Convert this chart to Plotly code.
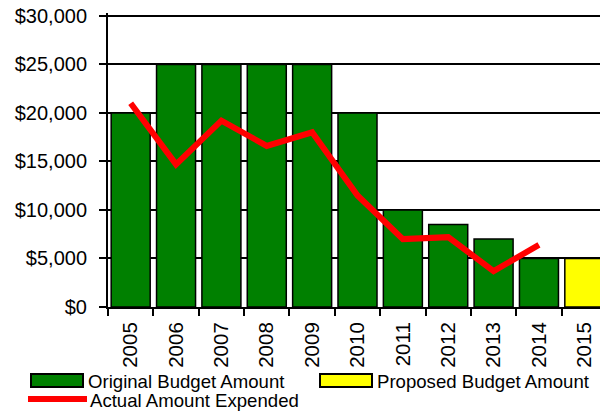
import plotly.graph_objects as go

years = ["2005", "2006", "2007", "2008", "2009", "2010", "2011", "2012", "2013", "2014", "2015"]
original_years = years[:10]
original_budget = [20000, 25000, 25000, 25000, 25000, 20000, 10000, 8500, 7000, 5000]
proposed_years = ["2015"]
proposed_budget = [5000]
actual_years = years[:10]
actual_expended = [21000, 14700, 19200, 16600, 18000, 11500, 7000, 7200, 3700, 6400]
y_tick_vals = [0, 5000, 10000, 15000, 20000, 25000, 30000]
y_tick_text = ["$0", "$5,000", "$10,000", "$15,000", "$20,000", "$25,000", "$30,000"]

# the page body has an 8px margin, so the figure is 8px smaller each way
OFF = 8
W, H = 608 - OFF, 413 - OFF
L, R, T, B = 108 - OFF, 1, 13 - OFF, 413 - 307
PW, PH = W - L - R, H - T - B
FONT = "Liberation Sans, Arial, sans-serif"


def px(x):
    return (x - OFF - L) / PW


def py(y):
    return (H - B - (y - OFF)) / PH


fig = go.Figure()
fig.add_trace(go.Bar(
    x=original_years, y=original_budget, name="Original Budget Amount",
    marker=dict(color="#008000", line=dict(color="black", width=1.5)),
    showlegend=False,
))
fig.add_trace(go.Bar(
    x=proposed_years, y=proposed_budget, name="Proposed Budget Amount",
    marker=dict(color="#FFFF00", line=dict(color="black", width=1.5)),
    showlegend=False,
))
fig.add_trace(go.Scatter(
    x=actual_years, y=actual_expended, name="Actual Amount Expended",
    mode="lines", line=dict(color="#FF0000", width=6),
    showlegend=False,
))

LEG = 18.6
shapes = [
    dict(type="rect", xref="paper", yref="paper", x0=px(31), x1=px(83), y0=py(387), y1=py(374),
         fillcolor="#008000", line=dict(color="black", width=2)),
    dict(type="rect", xref="paper", yref="paper", x0=px(320), x1=px(372), y0=py(387), y1=py(374),
         fillcolor="#FFFF00", line=dict(color="black", width=2)),
    dict(type="line", xref="paper", yref="paper", x0=px(28), x1=px(87), y0=py(399), y1=py(399),
         line=dict(color="#FF0000", width=6)),
]
annotations = [
    dict(text="Original Budget Amount", x=px(86), y=py(381), xref="paper", yref="paper",
         xanchor="left", yanchor="middle", showarrow=False, font=dict(size=LEG, color="black", family=FONT)),
    dict(text="Proposed Budget Amount", x=px(375), y=py(381), xref="paper", yref="paper",
         xanchor="left", yanchor="middle", showarrow=False, font=dict(size=LEG, color="black", family=FONT)),
    dict(text="Actual Amount Expended", x=px(88), y=py(400), xref="paper", yref="paper",
         xanchor="left", yanchor="middle", showarrow=False, font=dict(size=LEG, color="black", family=FONT)),
]

fig.update_layout(
    width=W, height=H,
    margin=dict(l=L, r=R, t=T, b=B, pad=0, autoexpand=False),
    paper_bgcolor="white", plot_bgcolor="white",
    barmode="overlay", bargap=0.14,
    font=dict(family=FONT, size=20, color="black"),
    shapes=shapes, annotations=annotations,
    showlegend=False,
)
fig.update_xaxes(
    type="category", categoryorder="array", categoryarray=years,
    showline=True, linecolor="black", linewidth=2,
    ticks="outside", tickson="boundaries", ticklen=7, tickwidth=2, tickcolor="black",
    tickangle=-90, showgrid=False, tickfont=dict(size=20.5, family=FONT),
    ticklabelstandoff=5, ticklabeloverflow="allow", automargin=False,
)
fig.update_yaxes(
    range=[0, 30300], tickmode="array", tickvals=y_tick_vals, ticktext=y_tick_text,
    showline=True, linecolor="black", linewidth=2,
    ticks="outside", ticklen=7, tickwidth=2, tickcolor="black",
    showgrid=True, gridcolor="black", gridwidth=2, zeroline=False,
    tickfont=dict(size=20, family=FONT), ticklabelstandoff=8,
    ticklabeloverflow="allow", automargin=False,
)

fig.write_html("out.html")
